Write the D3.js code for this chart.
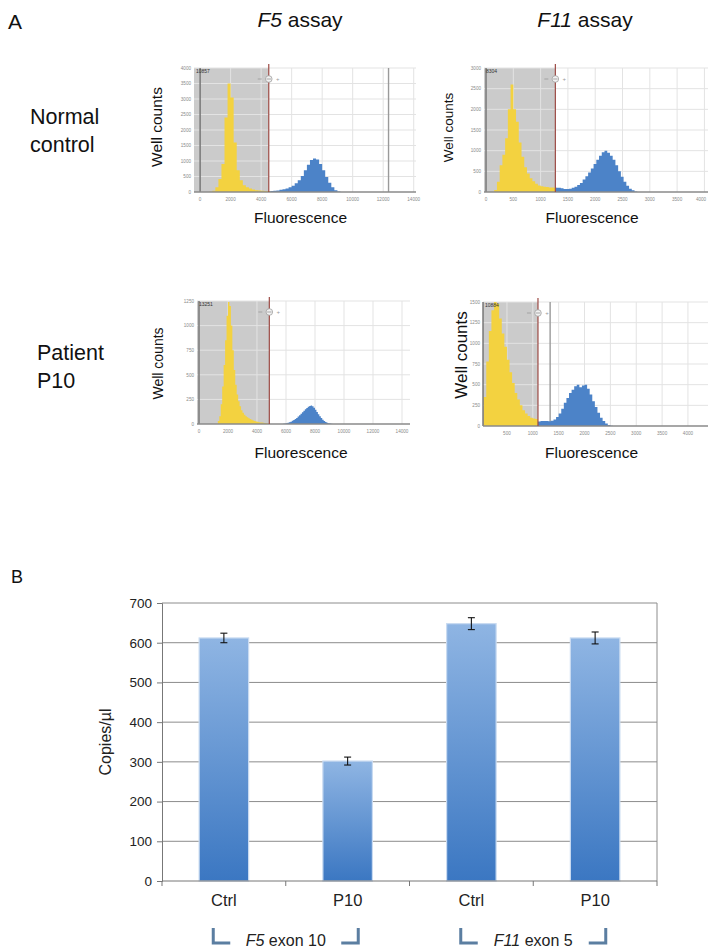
<!DOCTYPE html>
<html>
<head>
<meta charset="utf-8">
<script src="https://cdn.jsdelivr.net/npm/d3@7"></script>
<style>
  body { margin: 0; background: #fff; }
  svg { display: block; }
  text { font-family: "Liberation Sans", Arial, Helvetica, sans-serif; }
</style>
</head>
<body>
<svg id="fig" width="708" height="948"></svg>
<script>
// ---------- Panel A: droplet fluorescence histograms (bin counts) ----------
// F5 assay, normal control (bin width 200)
const f5CtrlBin = 200;
const f5CtrlNegStart = 600;
const f5CtrlNeg = [10, 40, 150, 420, 900, 2400, 3500, 3050, 1600, 700, 380, 220, 150, 110, 80, 60, 50, 40, 35, 30];
const f5CtrlPosStart = 4600;
const f5CtrlPos = [30, 40, 50, 70, 90, 110, 150, 200, 280, 380, 520, 700, 880, 1030, 1080, 1050, 900, 700, 480, 300, 150, 60, 20];

// F11 assay, normal control (bin width 50)
const f11CtrlBin = 50;
const f11CtrlNegStart = 150;
const f11CtrlNeg = [50, 250, 650, 900, 1300, 2000, 2600, 2000, 1700, 1200, 850, 600, 450, 330, 260, 200, 160, 140, 130, 120, 110, 110, 100];
const f11CtrlPosStart = 1270;
const f11CtrlPos = [100, 100, 90, 70, 70, 80, 100, 130, 170, 220, 300, 380, 470, 570, 680, 780, 880, 960, 1000, 950, 880, 780, 650, 500, 370, 250, 150, 80, 40, 15];

// F5 assay, patient P10 (bin width 100)
const f5PatBin = 100;
const f5PatNegStart = 1300;
const f5PatNeg = [30, 80, 200, 380, 600, 850, 1100, 1240, 1200, 1000, 750, 550, 400, 300, 230, 180, 140, 115, 95, 80, 68, 58, 50, 42, 36, 30, 26, 22, 19, 16, 14, 12, 10, 8, 6];
const f5PatPosStart = 5800;
const f5PatPos = [3, 5, 8, 12, 17, 24, 32, 40, 50, 62, 75, 90, 105, 120, 135, 150, 163, 175, 183, 188, 180, 165, 145, 122, 100, 80, 60, 44, 30, 20, 12, 7, 4, 2];

// F11 assay, patient P10 (bin width 50)
const f11PatBin = 50;
const f11PatNegStart = 50;
const f11PatNeg = [350, 780, 1150, 1400, 1520, 1480, 1300, 1120, 960, 800, 650, 520, 400, 320, 250, 190, 150, 120, 100, 90, 85];
const f11PatPosStart = 1100;
const f11PatPos = [55, 60, 62, 60, 58, 65, 80, 110, 150, 210, 280, 340, 400, 440, 480, 500, 470, 490, 500, 450, 380, 300, 230, 160, 100, 60, 30, 12, 4];

// Axis ticks of the four histograms
const f5XTicks = [0, 2000, 4000, 6000, 8000, 10000, 12000, 14000];
const f11XTicks = [0, 500, 1000, 1500, 2000, 2500, 3000, 3500, 4000];
const f11PatXTicks = [500, 1000, 1500, 2000, 2500, 3000, 3500, 4000];
const f5CtrlYTicks = [0, 500, 1000, 1500, 2000, 2500, 3000, 3500, 4000];
const f11CtrlYTicks = [0, 500, 1000, 1500, 2000, 2500, 3000];
const f5PatYTicks = [0, 250, 500, 750, 1000, 1250];
const f11PatYTicks = [0, 250, 500, 750, 1000, 1250, 1500];

// Amplitude thresholds and accepted droplet totals
const thresholds = [4500, 1270, 4850, 1100];
const dropletTotals = ["10857", "8304", "13251", "10884"];

// ---------- Panel B: copies per microlitre ----------
const barGroups = ["F5 exon 10", "F5 exon 10", "F11 exon 5", "F11 exon 5"];
const barLabels = ["Ctrl", "P10", "Ctrl", "P10"];
const barValues = [612, 302, 648, 612];
const barErrors = [12, 10, 15, 15];
const barTicks = [0, 100, 200, 300, 400, 500, 600, 700];

const W = 708;
const svg = d3.select("#fig");
svg.append("rect").attr("width", W).attr("height", 948).attr("fill", "#fff");

const NEG = "#f3d240", POS = "#4c83c8";

// ---------- figure labels ----------
svg.append("text").attr("x", 8).attr("y", 29).attr("font-size", 21).attr("fill", "#111").text("A");

function title(cx, gene) {
  const t = svg.append("text").attr("x", cx).attr("y", 27).attr("font-size", 21)
    .attr("text-anchor", "middle").attr("fill", "#111");
  t.append("tspan").attr("font-style", "italic").text(gene);
  t.append("tspan").text(" assay");
}
title(300, "F5");
title(585, "F11");

function rowLabel(x, y, lines) {
  lines.forEach((s, i) => svg.append("text").attr("x", x).attr("y", y + i * 28)
    .attr("font-size", 21.5).attr("fill", "#111").text(s));
}
rowLabel(30, 124, ["Normal", "control"]);
rowLabel(37, 360, ["Patient", "P10"]);

// ---------- histogram panels ----------
let clipCount = 0;
function histogram(cfg) {
  const g = svg.append("g");
  const x = d3.scaleLinear().domain(cfg.xDomain).range([cfg.left, cfg.right]);
  const y = d3.scaleLinear().domain([0, cfg.yTicks[cfg.yTicks.length - 1]]).range([cfg.bottom, cfg.top]);
  const id = "clip" + (clipCount++);
  svg.append("clipPath").attr("id", id).append("rect")
    .attr("x", cfg.left).attr("y", cfg.top).attr("width", cfg.right - cfg.left).attr("height", cfg.bottom - cfg.top);

  // below-threshold region
  g.append("rect").attr("x", cfg.left).attr("y", cfg.top)
    .attr("width", x(cfg.threshold) - cfg.left).attr("height", cfg.bottom - cfg.top).attr("fill", "#cbcbcb");

  // grid
  g.append("g").selectAll("line").data(cfg.xTicks.filter(v => v > cfg.xDomain[0])).join("line")
    .attr("x1", d => x(d)).attr("x2", d => x(d)).attr("y1", cfg.top).attr("y2", cfg.bottom)
    .attr("stroke", "#e3e3e3").attr("stroke-width", 1);
  g.append("g").selectAll("line").data(cfg.yTicks.slice(1)).join("line")
    .attr("x1", cfg.left).attr("x2", cfg.right).attr("y1", d => y(d)).attr("y2", d => y(d))
    .attr("stroke", "#e3e3e3").attr("stroke-width", 1);
  (cfg.marks || []).forEach(m => g.append("line").attr("x1", x(m)).attr("x2", x(m))
    .attr("y1", cfg.top).attr("y2", cfg.bottom).attr("stroke", "#9a9a9a").attr("stroke-width", 1.4));

  // step histograms
  const area = d3.area().curve(d3.curveStepAfter)
    .x(d => x(d[0])).y0(cfg.bottom).y1(d => y(d[1]));
  function steps(start, counts) {
    const pts = counts.map((c, i) => [start + i * cfg.bin, c]);
    pts.push([start + counts.length * cfg.bin, counts[counts.length - 1]]);
    return pts;
  }
  const hg = g.append("g").attr("clip-path", `url(#${id})`);
  hg.append("path").attr("d", area(steps(cfg.negStart, cfg.neg))).attr("fill", NEG);
  hg.append("path").attr("d", area(steps(cfg.posStart, cfg.pos))).attr("fill", POS);

  // left edge / zero line
  const x0 = Math.max(cfg.left, x(0));
  g.append("line").attr("x1", x0).attr("x2", x0).attr("y1", cfg.top).attr("y2", cfg.bottom)
    .attr("stroke", "#666").attr("stroke-width", 1.3);
  // baseline
  g.append("line").attr("x1", cfg.left).attr("x2", cfg.right).attr("y1", cfg.bottom).attr("y2", cfg.bottom)
    .attr("stroke", "#8a8a8a").attr("stroke-width", 1.6);

  // threshold line and handle
  const tx = x(cfg.threshold);
  g.append("line").attr("x1", tx).attr("x2", tx).attr("y1", cfg.top - 4).attr("y2", cfg.bottom)
    .attr("stroke", "#9c4a44").attr("stroke-width", 1.2);
  g.append("line").attr("x1", tx - 11).attr("x2", tx - 7).attr("y1", cfg.top + 11).attr("y2", cfg.top + 11)
    .attr("stroke", "#999").attr("stroke-width", 0.8);
  g.append("circle").attr("cx", tx).attr("cy", cfg.top + 11).attr("r", 3.3)
    .attr("fill", "#f1f1f1").attr("stroke", "#a0a0a0").attr("stroke-width", 0.8);
  g.append("line").attr("x1", tx - 2.2).attr("x2", tx + 2.2).attr("y1", cfg.top + 11).attr("y2", cfg.top + 11)
    .attr("stroke", "#888").attr("stroke-width", 0.7);
  g.append("text").attr("x", tx + 9).attr("y", cfg.top + 13).attr("font-size", 6)
    .attr("text-anchor", "middle").attr("fill", "#999").text("+");

  // droplet total
  g.append("text").attr("x", cfg.left + 2).attr("y", cfg.top + 5).attr("font-size", 5)
    .attr("fill", "#333").text(cfg.total);

  // tick labels (a label reaching the page edge is kept inside it)
  g.append("g").selectAll("text").data(cfg.yTicks).join("text")
    .attr("x", cfg.left - 3).attr("y", d => y(d) + 1.7).attr("text-anchor", "end")
    .attr("font-size", 4.6).attr("fill", "#8a8a8a").text(d => d);
  g.append("g").selectAll("text").data(cfg.xTicks.filter(v => v >= cfg.xDomain[0])).join("text")
    .attr("x", d => Math.min(x(d), W - 7)).attr("y", cfg.bottom + 9).attr("text-anchor", "middle")
    .attr("font-size", 4.6).attr("fill", "#8a8a8a").text(d => d);

  // axis titles
  svg.append("text").attr("transform", `translate(${cfg.yTitle[0]},${cfg.yTitle[1]}) rotate(-90)`)
    .attr("text-anchor", "middle").attr("font-size", cfg.yTitle[2]).attr("fill", "#111").text("Well counts");
  svg.append("text").attr("x", cfg.xTitle[0]).attr("y", cfg.xTitle[1]).attr("text-anchor", "middle")
    .attr("font-size", 15.5).attr("fill", "#111").text("Fluorescence");
}

histogram({
  left: 194, right: 416, top: 68, bottom: 192, xDomain: [-400, 14150],
  xTicks: f5XTicks, yTicks: f5CtrlYTicks, threshold: thresholds[0], total: dropletTotals[0],
  bin: f5CtrlBin, negStart: f5CtrlNegStart, neg: f5CtrlNeg, posStart: f5CtrlPosStart, pos: f5CtrlPos,
  marks: [12350], yTitle: [162, 127, 15.5], xTitle: [300.5, 223]
});
histogram({
  left: 484, right: 712, top: 68, bottom: 192, xDomain: [-37, 4139],
  xTicks: f11XTicks, yTicks: f11CtrlYTicks, threshold: thresholds[1], total: dropletTotals[1],
  bin: f11CtrlBin, negStart: f11CtrlNegStart, neg: f11CtrlNeg, posStart: f11CtrlPosStart, pos: f11CtrlPos,
  yTitle: [453, 127.5, 13.5], xTitle: [592, 223]
});
histogram({
  left: 197, right: 410, top: 301, bottom: 424, xDomain: [-138, 14552],
  xTicks: f5XTicks, yTicks: f5PatYTicks, threshold: thresholds[2], total: dropletTotals[2],
  bin: f5PatBin, negStart: f5PatNegStart, neg: f5PatNeg, posStart: f5PatPosStart, pos: f5PatPos,
  yTitle: [163, 363.5, 14], xTitle: [301, 458]
});
histogram({
  left: 483, right: 712, top: 302, bottom: 426, xDomain: [37, 4465],
  xTicks: f11PatXTicks, yTicks: f11PatYTicks, threshold: thresholds[3], total: dropletTotals[3],
  bin: f11PatBin, negStart: f11PatNegStart, neg: f11PatNeg, posStart: f11PatPosStart, pos: f11PatPos,
  marks: [1335], yTitle: [467, 355, 17], xTitle: [591.5, 458]
});

// ---------- Panel B: bar chart ----------
svg.append("text").attr("x", 11).attr("y", 583).attr("font-size", 18).attr("fill", "#111").text("B");

const bL = 162, bR = 657, bT = 603, bB = 881;
const by = d3.scaleLinear().domain([0, 700]).range([bB, bT]);
const bx = d3.scaleBand().domain(d3.range(barValues.length)).range([bL, bR])
  .paddingInner(0.6).paddingOuter(0.3);

const defs = svg.append("defs");
const grad = defs.append("linearGradient").attr("id", "barGrad")
  .attr("x1", 0).attr("y1", 0).attr("x2", 0).attr("y2", 1);
grad.append("stop").attr("offset", "0%").attr("stop-color", "#8fb5e3");
grad.append("stop").attr("offset", "100%").attr("stop-color", "#3b77c2");

const bg = svg.append("g");
// horizontal gridlines
bg.append("g").selectAll("line").data(barTicks.slice(1)).join("line")
  .attr("x1", bL).attr("x2", bR).attr("y1", d => by(d)).attr("y2", d => by(d))
  .attr("stroke", "#8c8c8c").attr("stroke-width", 1);
// right border
bg.append("line").attr("x1", bR).attr("x2", bR).attr("y1", bT).attr("y2", bB)
  .attr("stroke", "#8c8c8c").attr("stroke-width", 1);

// y axis
const yAxis = d3.axisLeft(by).tickValues(barTicks).tickSize(5).tickPadding(5);
const ya = bg.append("g").attr("transform", `translate(${bL},0)`).call(yAxis);
ya.select(".domain").attr("stroke", "#777");
ya.selectAll(".tick line").attr("stroke", "#777");
ya.selectAll(".tick text").attr("font-size", 13.5).attr("fill", "#222")
  .attr("font-family", '"Liberation Sans", Arial, sans-serif');

// bars
bg.append("g").selectAll("rect").data(barValues).join("rect")
  .attr("x", (d, i) => bx(i)).attr("width", bx.bandwidth())
  .attr("y", d => by(d)).attr("height", d => bB - by(d))
  .attr("fill", "url(#barGrad)").attr("stroke", "#c9dbf1").attr("stroke-width", 1.2);

// error bars
const eg = bg.append("g").attr("stroke", "#111").attr("stroke-width", 1.1);
barValues.forEach((v, i) => {
  const cx = bx(i) + bx.bandwidth() / 2;
  eg.append("line").attr("x1", cx).attr("x2", cx).attr("y1", by(v + barErrors[i])).attr("y2", by(v - barErrors[i]));
  [v + barErrors[i], v - barErrors[i]].forEach(e =>
    eg.append("line").attr("x1", cx - 3.5).attr("x2", cx + 3.5).attr("y1", by(e)).attr("y2", by(e)));
});

// x axis with category boundaries
bg.append("line").attr("x1", bL).attr("x2", bR).attr("y1", bB).attr("y2", bB)
  .attr("stroke", "#777").attr("stroke-width", 1);
bg.append("g").selectAll("line").data(d3.range(barValues.length + 1)).join("line")
  .attr("x1", i => bL + i * bx.step()).attr("x2", i => bL + i * bx.step())
  .attr("y1", bB).attr("y2", bB + 5).attr("stroke", "#777");
const xAxis = d3.axisBottom(bx).tickSize(0).tickPadding(13).tickFormat(i => barLabels[i]);
const xa = bg.append("g").attr("transform", `translate(0,${bB})`).call(xAxis);
xa.select(".domain").remove();
xa.selectAll(".tick text").attr("font-size", 16.5).attr("fill", "#222")
  .attr("font-family", '"Liberation Sans", Arial, sans-serif');

// y title
svg.append("text").attr("transform", `translate(111,${(bT + bB) / 2}) rotate(-90)`)
  .attr("text-anchor", "middle").attr("font-size", 16).attr("fill", "#222").text("Copies/µl");

// group brackets
const groups = Array.from(new Set(barGroups));
groups.forEach(name => {
  const idx = barGroups.map((gname, i) => gname === name ? i : -1).filter(i => i >= 0);
  const cx = (bx(idx[0]) + bx(idx[idx.length - 1]) + bx.bandwidth()) / 2;
  const half = 72.5, top = 928, bot = 943;
  const br = svg.append("g").attr("fill", "none").attr("stroke", "#5b7ea1").attr("stroke-width", 3);
  br.append("path").attr("d", `M${cx - half},${top}V${bot}H${cx - half + 17}`);
  br.append("path").attr("d", `M${cx + half},${top}V${bot}H${cx + half - 17}`);
  const [gene, ...rest] = name.split(" ");
  const t = svg.append("text").attr("x", cx).attr("y", 946).attr("text-anchor", "middle")
    .attr("font-size", 16).attr("fill", "#222");
  t.append("tspan").attr("font-style", "italic").text(gene);
  t.append("tspan").text(" " + rest.join(" "));
});
</script>
</body>
</html>
